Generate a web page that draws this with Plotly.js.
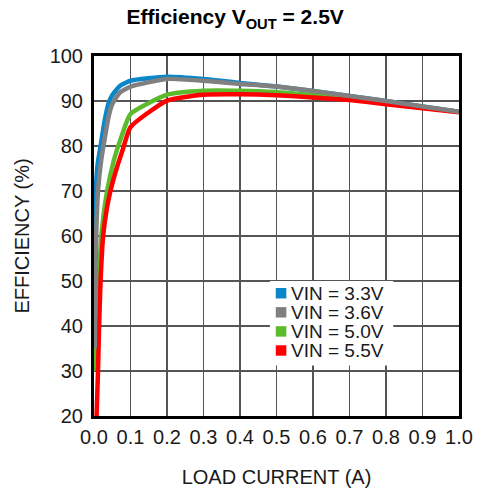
<!DOCTYPE html>
<html>
<head>
<meta charset="utf-8">
<script src="https://cdn.plot.ly/plotly-3.0.1.min.js"></script>
<style>html,body{margin:0;padding:0;background:#fff;}#chart{width:485px;height:493px;}</style>
</head>
<body>
<div id="chart"></div>
<script>
// Series names (legend labels)
const seriesNames = ["VIN = 3.3V", "VIN = 3.6V", "VIN = 5.0V", "VIN = 5.5V"];

// VIN = 3.3V
const load33 = [0.001, 0.003, 0.005, 0.01, 0.018, 0.03, 0.04, 0.05, 0.07, 0.1, 0.2, 0.3, 0.4, 0.5, 0.6, 0.7, 0.8, 0.9, 1.0];
const eff33  = [45, 62, 70, 76, 80, 86, 89.5, 91.3, 93.3, 94.5, 95.4, 94.9, 94.0, 93.2, 92.2, 91.1, 90.0, 88.8, 87.6];

// VIN = 3.6V
const load36 = [0.002, 0.006, 0.011, 0.02, 0.03, 0.04, 0.05, 0.07, 0.1, 0.2, 0.3, 0.4, 0.5, 0.6, 0.7, 0.8, 0.9, 1.0];
const eff36  = [35, 60, 70, 77, 82, 86.5, 89.3, 91.8, 93.2, 94.9, 94.5, 93.8, 93.2, 92.2, 91.1, 90.0, 88.8, 87.6];

// VIN = 5.0V
const load50 = [0.004, 0.008, 0.013, 0.02, 0.036, 0.055, 0.075, 0.1, 0.2, 0.3, 0.4, 0.5, 0.6, 0.7, 0.8, 0.9, 1.0];
const eff50  = [30, 42, 50, 60, 70, 77, 82, 87.1, 91.4, 92.3, 92.3, 92.0, 91.3, 90.5, 89.6, 88.6, 87.6];

// VIN = 5.5V
const load55 = [0.007, 0.011, 0.014, 0.018, 0.025, 0.035, 0.045, 0.06, 0.08, 0.1, 0.2, 0.3, 0.4, 0.5, 0.6, 0.7, 0.8, 0.9, 1.0];
const eff55  = [20, 30, 40, 50, 60, 66, 70, 74.5, 79.5, 84.2, 90.1, 91.4, 91.5, 91.3, 90.8, 90.2, 89.3, 88.4, 87.5];

// Axis ticks
const xTicks = [0.0, 0.1, 0.2, 0.3, 0.4, 0.5, 0.6, 0.7, 0.8, 0.9, 1.0];
const xTickLabels = ["0.0", "0.1", "0.2", "0.3", "0.4", "0.5", "0.6", "0.7", "0.8", "0.9", "1.0"];
const yTicks = [20, 30, 40, 50, 60, 70, 80, 90, 100];

const colors = ["#0b86c8", "#808080", "#5cbb2c", "#ff0000"];
const FONT = "Liberation Sans, Arial, Helvetica, sans-serif";
const TXT = "#1a1a1a";

const series = [
  {x: load33, y: eff33, name: seriesNames[0], c: colors[0]},
  {x: load36, y: eff36, name: seriesNames[1], c: colors[1]},
  {x: load50, y: eff50, name: seriesNames[2], c: colors[2]},
  {x: load55, y: eff55, name: seriesNames[3], c: colors[3]}
];
const drawOrder = [0, 2, 3, 1];
const traces = drawOrder.map(i => ({
  type: "scatter", mode: "lines",
  x: series[i].x, y: series[i].y, name: series[i].name,
  line: {color: series[i].c, width: 4.5, shape: "spline", smoothing: 0.5},
  showlegend: false, hoverinfo: "skip"
}));

// Custom legend (tight rows, square swatches) on a white box
const legY = [0.341, 0.288, 0.235, 0.182];
const shapes = [{
  type: "rect", xref: "paper", yref: "paper", layer: "above",
  x0: 0.482, x1: 0.82, y0: 0.14, y1: 0.375,
  fillcolor: "#fff", line: {width: 0}
}].concat(series.map((s, i) => ({
  type: "rect", xref: "paper", yref: "paper", layer: "above",
  x0: 0.498, x1: 0.527, y0: legY[i] - 0.0145, y1: legY[i] + 0.0145,
  fillcolor: s.c, line: {width: 0}
})));
const annotations = series.map((s, i) => ({
  xref: "paper", yref: "paper", x: 0.533, y: legY[i],
  xanchor: "left", yanchor: "middle", showarrow: false,
  text: s.name, font: {family: FONT, size: 19, color: TXT}
}));

const layout = {
  width: 485, height: 493,
  margin: {l: 94, r: 26, t: 56, b: 77},
  paper_bgcolor: "#fff", plot_bgcolor: "#fff",
  title: {
    text: "<b>Efficiency V<sub>OUT</sub> = 2.5V</b>",
    font: {family: FONT, size: 21, color: "#000"},
    x: 0.485, xanchor: "center", y: 0.966, yanchor: "middle"
  },
  xaxis: {
    range: [0, 1], tickvals: xTicks, ticktext: xTickLabels,
    showgrid: true, gridcolor: "#555", gridwidth: 1.3,
    showline: true, linecolor: "#000", linewidth: 3, mirror: true,
    zeroline: false, ticks: "", ticklabelstandoff: 1,
    tickfont: {family: FONT, size: 20, color: TXT},
    title: {text: "LOAD CURRENT (A)", font: {family: FONT, size: 20, color: TXT}, standoff: 23}
  },
  yaxis: {
    range: [20, 100], tickvals: yTicks,
    showgrid: true, gridcolor: "#555", gridwidth: 1.3,
    showline: true, linecolor: "#000", linewidth: 3, mirror: true,
    zeroline: false, ticks: "", ticklabelstandoff: 4,
    tickfont: {family: FONT, size: 20, color: TXT},
    title: {text: "EFFICIENCY (%)", font: {family: FONT, size: 20, color: TXT}, standoff: 15}
  },
  shapes: shapes,
  annotations: annotations,
  showlegend: false
};

Plotly.newPlot("chart", traces, layout, {staticPlot: true, displayModeBar: false});
</script>
</body>
</html>
